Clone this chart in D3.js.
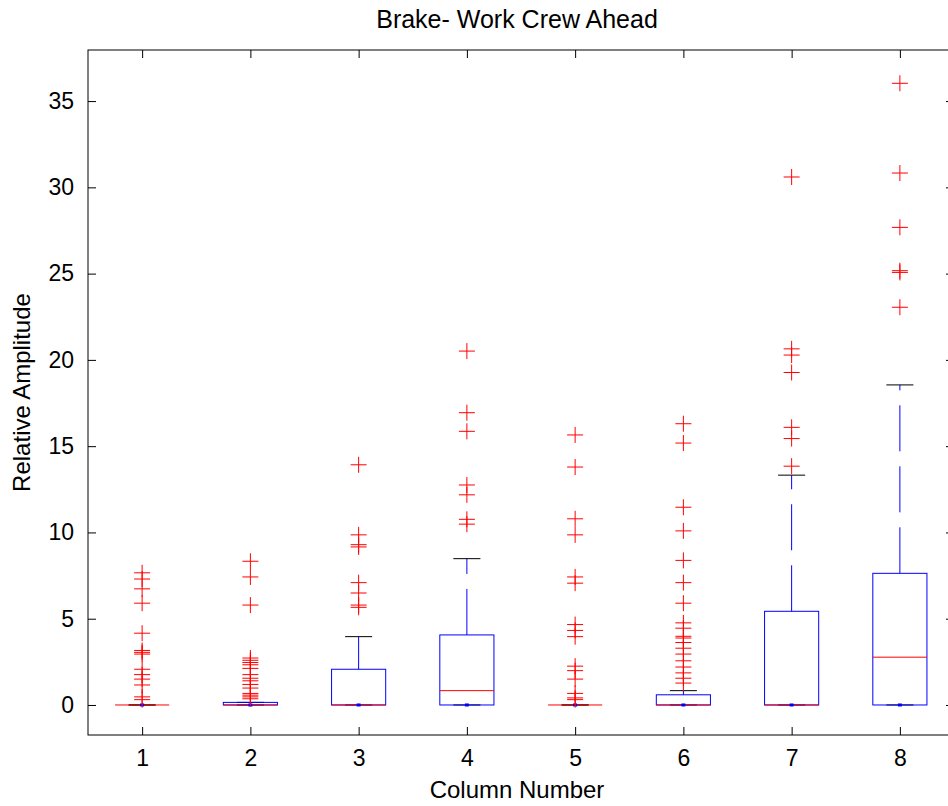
<!DOCTYPE html>
<html>
<head>
<meta charset="utf-8">
<script src="https://cdn.jsdelivr.net/npm/d3@7"></script>
<style>
  body { margin:0; background:#fff; }
  svg text { font-family: "Liberation Sans", Arial, Helvetica, sans-serif; fill:#000; }
</style>
</head>
<body>
<div id="chart"></div>
<script>
// boxplot: Brake- Work Crew Ahead (one box per column)
const COLUMNS = [1, 2, 3, 4, 5, 6, 7, 8];
const Q1 = [0, 0, 0, 0, 0, 0, 0, 0];
const Q3 = [0, 0.15, 2.07, 4.06, 0, 0.59, 5.43, 7.63];
const MEDIANS = [0, 0, 0, 0.83, 0, 0, 0, 2.77];
const LOWER_WHISKER = [0, 0, 0, 0, 0, 0, 0, 0];
const UPPER_WHISKER = [0, 0.15, 3.96, 8.48, 0, 0.83, 13.32, 18.55];
const OUTLIERS = [
  [7.66, 7.3, 6.73, 5.9, 4.16, 3.16, 3.05, 2.95, 2.07, 1.76, 1.5, 1.16, 0.47, 0.31],
  [8.33, 7.42, 5.79, 2.72, 2.59, 2.46, 2.33, 2.12, 1.76, 1.55, 1.4, 1.19, 0.98, 0.67, 0.57, 0.47, 0.36],
  [13.92, 9.86, 9.29, 9.16, 7.09, 6.49, 5.79, 5.66],
  [20.51, 16.94, 15.86, 12.75, 12.18, 10.76, 10.48],
  [15.65, 13.79, 10.79, 9.86, 7.42, 7.06, 4.66, 4.32, 3.96, 2.25, 1.99, 1.5, 0.67, 0.41, 0.31],
  [16.3, 15.18, 11.46, 10.09, 8.38, 7.09, 5.9, 4.76, 4.45, 3.98, 3.88, 3.62, 3.29, 2.95, 2.56, 2.2, 1.86, 1.55, 1.27],
  [30.6, 20.64, 20.28, 19.27, 16.09, 15.44, 13.84],
  [36.03, 30.83, 27.68, 25.17, 25.07, 23.05]
];
const Y_TICKS = [0, 5, 10, 15, 20, 25, 30, 35];

const W = 948, H = 806;
const AX = { left: 88, right: 954, top: 50, bottom: 735 };
const BOX_W = 0.5, CAP_W = 0.25, PLUS = 8;

function buildChart() {
  const svg = d3.select('#chart').append('svg')
    .attr('width', W).attr('height', H);
  svg.append('rect').attr('width', W).attr('height', H).attr('fill', '#fff');

  const x = d3.scaleLinear().domain([0.5, 8.5]).range([AX.left, AX.right]);
  const y = d3.scaleLinear().domain([-1.74, 37.96]).range([AX.bottom, AX.top]);

  // axes, ticks pointing inward
  const fmt = d => d;
  svg.append('g').attr('transform', `translate(0,${AX.bottom})`)
    .call(d3.axisBottom(x).tickValues(COLUMNS).tickSize(-8).tickPadding(15).tickFormat(fmt))
    .call(g => g.select('.domain').remove());
  svg.append('g').attr('transform', `translate(0,${AX.top})`)
    .call(d3.axisTop(x).tickValues(COLUMNS).tickSize(-8).tickFormat(''))
    .call(g => g.select('.domain').remove());
  svg.append('g').attr('transform', `translate(${AX.left},0)`)
    .call(d3.axisLeft(y).tickValues(Y_TICKS).tickSize(-8).tickPadding(14).tickFormat(fmt))
    .call(g => g.select('.domain').remove());
  svg.append('g').attr('transform', `translate(${AX.right},0)`)
    .call(d3.axisRight(y).tickValues(Y_TICKS).tickSize(-8).tickFormat(''))
    .call(g => g.select('.domain').remove());
  svg.selectAll('.tick text').style('font-size', '23px');
  svg.selectAll('.tick line').attr('stroke', '#000');

  svg.append('rect')
    .attr('x', AX.left).attr('y', AX.top)
    .attr('width', AX.right - AX.left).attr('height', AX.bottom - AX.top)
    .attr('fill', 'none').attr('stroke', '#000').attr('stroke-width', 1);

  const plot = svg.append('g');
  COLUMNS.forEach((c, i) => {
    const cx = x(c);
    const bw = x(c + BOX_W / 2) - cx;
    const cw = x(c + CAP_W / 2) - cx;

    // whiskers (dashed blue) from box edges outward
    plot.append('line').attr('x1', cx).attr('x2', cx)
      .attr('y1', y(Q3[i])).attr('y2', y(UPPER_WHISKER[i]))
      .attr('stroke', '#0000ff').attr('stroke-dasharray', '46,15');
    plot.append('line').attr('x1', cx).attr('x2', cx)
      .attr('y1', y(Q1[i])).attr('y2', y(LOWER_WHISKER[i]))
      .attr('stroke', '#0000ff').attr('stroke-dasharray', '46,15');

    // caps
    [UPPER_WHISKER[i], LOWER_WHISKER[i]].forEach(v => {
      plot.append('line').attr('x1', cx - cw).attr('x2', cx + cw)
        .attr('y1', y(v)).attr('y2', y(v)).attr('stroke', '#000');
    });

    // box
    plot.append('rect')
      .attr('x', cx - bw).attr('width', 2 * bw)
      .attr('y', y(Q3[i])).attr('height', y(Q1[i]) - y(Q3[i]))
      .attr('fill', 'none').attr('stroke', '#0000ff');

    // median
    plot.append('line').attr('x1', cx - bw).attr('x2', cx + bw)
      .attr('y1', y(MEDIANS[i])).attr('y2', y(MEDIANS[i])).attr('stroke', '#ff0000');

    // lower whisker end dot
    plot.append('rect').attr('x', cx - 2).attr('y', y(LOWER_WHISKER[i]) - 1.5)
      .attr('width', 4).attr('height', 3).attr('fill', '#0000ff');

    // outliers as red plus signs
    OUTLIERS[i].forEach(v => {
      const py = y(v);
      plot.append('path')
        .attr('d', `M${cx - PLUS},${py}H${cx + PLUS}M${cx},${py - PLUS}V${py + PLUS}`)
        .attr('stroke', '#ff0000').attr('fill', 'none');
    });
  });

  const midX = (AX.left + AX.right) / 2;
  svg.append('text').attr('x', midX - 4).attr('y', 28)
    .attr('text-anchor', 'middle').style('font-size', '25px')
    .text('Brake- Work Crew Ahead');
  svg.append('text').attr('x', midX - 4).attr('y', 798)
    .attr('text-anchor', 'middle').style('font-size', '24px')
    .text('Column Number');
  svg.append('text')
    .attr('transform', `translate(30,${(AX.top + AX.bottom) / 2}) rotate(-90)`)
    .attr('text-anchor', 'middle').style('font-size', '24px')
    .text('Relative Amplitude');
}

document.addEventListener('DOMContentLoaded', buildChart);
</script>
</body>
</html>
